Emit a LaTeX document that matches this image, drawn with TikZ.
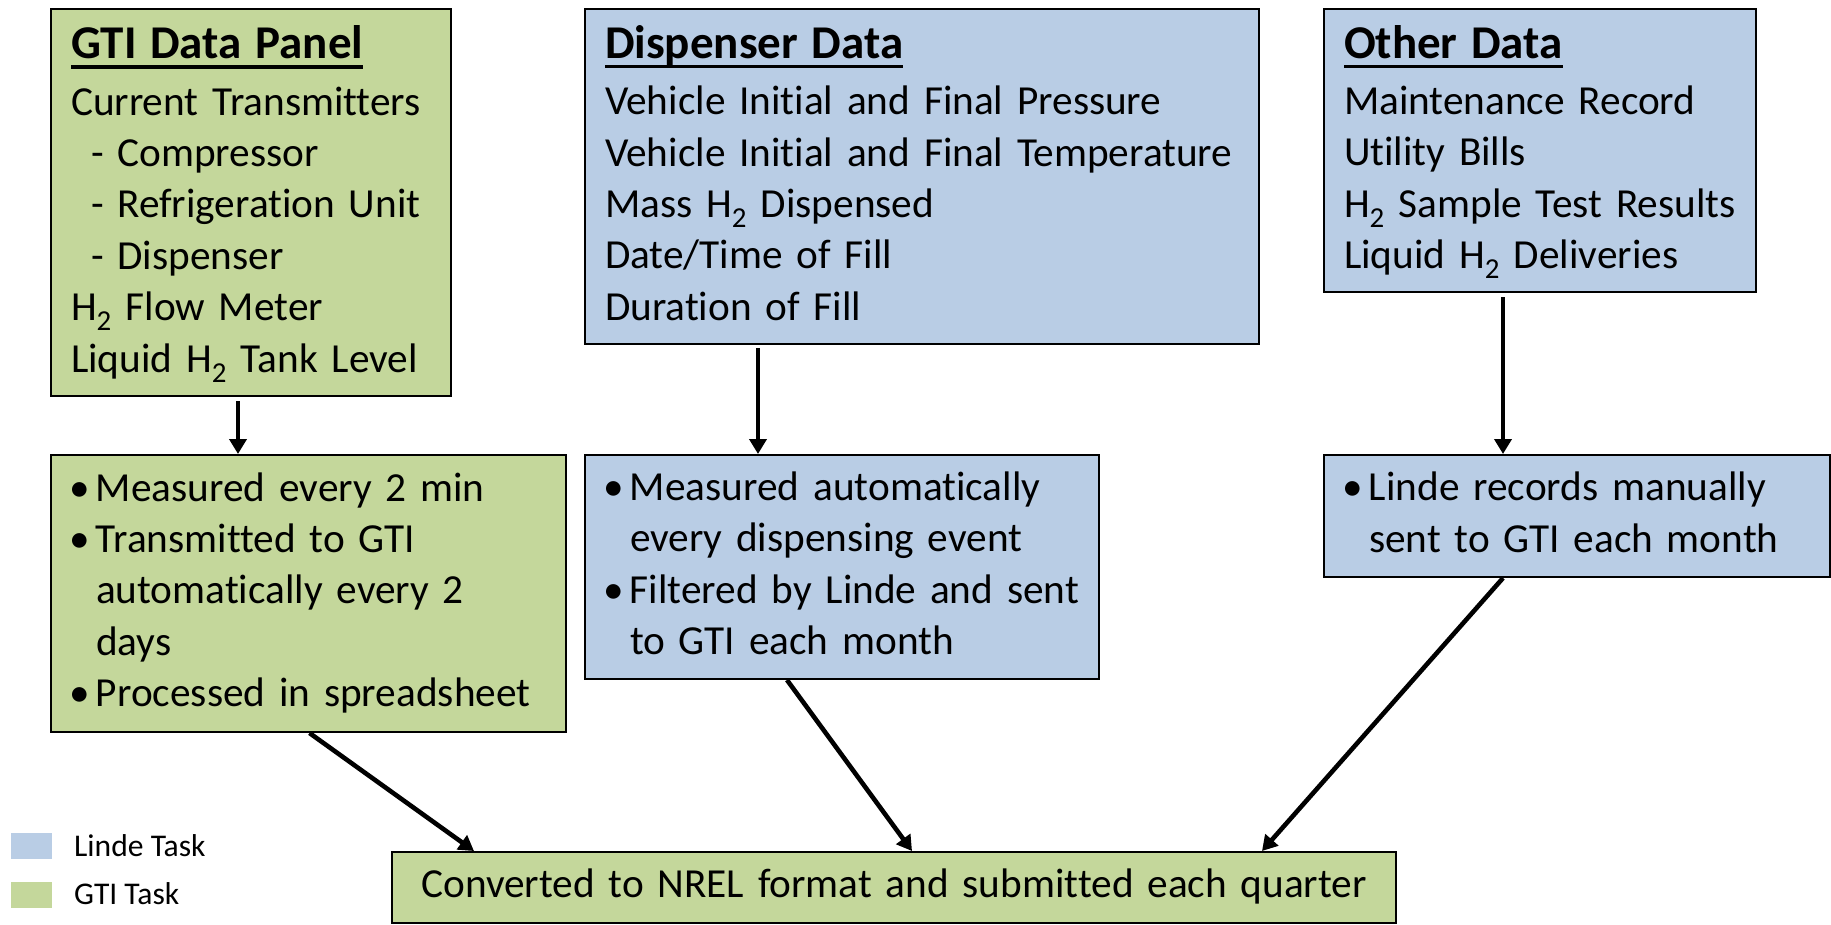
\documentclass[tikz,border=0pt]{standalone}
\usepackage{fontspec}
\setmainfont{Carlito}[Ligatures=NoCommon]
\usetikzlibrary{arrows.meta}
\definecolor{gfill}{HTML}{C4D79B}
\definecolor{bfill}{HTML}{B9CDE5}
\newcommand\hd[1]{\mbox{\rule[-15pt]{0pt}{56pt}\fontsize{47}{57}\selectfont\bfseries\setbox0\hbox{#1}\rlap{\rule[-10pt]{\wd0}{3.2pt}}\box0}\\[5pt]}
\newcommand\Hz{H\textsubscript{2}}
\newcommand\li[1]{\mbox{\rule[-15.4pt]{0pt}{51.4pt}#1}}
\newcommand\bul{\makebox[25pt][l]{\hspace*{-2pt}\textbullet}}
\newcommand\bfirst[1]{\hangindent=25pt\hangafter=1\noindent\bul#1}
\newcommand\bitem[1]{\par\hangindent=25pt\hangafter=1\noindent\bul#1}
\begin{document}
\begin{tikzpicture}[x=1pt,y=-1pt,
  box/.style={draw=black, line width=2pt, anchor=north west, inner xsep=20pt, inner ysep=0pt,
    align=left, font=\fontsize{41.3}{51.4}\selectfont},
  arr/.style={line width=4.6pt, -{Triangle[length=15pt,width=17pt]}},
  legsq/.style={anchor=north west, inner sep=0pt, minimum width=41pt, minimum height=26pt},
  legtx/.style={anchor=base west, inner sep=0pt, font=\fontsize{31.6}{38}\selectfont}]
\useasboundingbox (0,0) rectangle (1831,924);
% top row
\node[box, fill=gfill, text width=360pt, minimum height=387pt] (gti) at (50,8)
  {\hd{GTI Data Panel}\li{Current Transmitters}\\ \li{\hspace*{20pt}- Compressor}\\
   \li{\hspace*{20pt}- Refrigeration Unit}\\ \li{\hspace*{20pt}- Dispenser}\\
   \li{\Hz{} Flow Meter}\\ \li{Liquid \Hz{} Tank Level}};
\node[box, fill=bfill, text width=634pt, minimum height=335pt] (disp) at (584,8)
  {\hd{Dispenser Data}\li{Vehicle Initial and Final Pressure}\\
   \li{Vehicle Initial and Final Temperature}\\ \li{Mass \Hz{} Dispensed}\\
   \li{Date/Time of Fill}\\ \li{Duration of Fill}};
\node[box, fill=bfill, text width=392pt, minimum height=283pt] (oth) at (1323,8)
  {\hd{Other Data}\li{Maintenance Record}\\ \li{Utility Bills}\\
   \li{\Hz{} Sample Test Results}\\ \li{Liquid \Hz{} Deliveries}};
% second row
\node[box, fill=gfill, text width=475pt, minimum height=277pt] (gtib) at (50,454)
  {\bfirst{\li{Measured every 2 min}}
   \bitem{\li{Transmitted to GTI}\newline\li{automatically every 2}\newline\li{days}}
   \bitem{\li{Processed in spreadsheet}}\par};
\node[box, fill=bfill, text width=474pt, minimum height=224pt] (dispb) at (584,454)
  {\bfirst{\li{Measured automatically}\newline\li{every dispensing event}}
   \bitem{\li{Filtered by Linde and sent}\newline\li{to GTI each month}}\par};
\node[box, fill=bfill, text width=466pt, minimum height=122pt] (othb) at (1323,454)
  {\bfirst{\li{Linde records manually}\newline\li{sent to GTI each month}}\par};
% bottom
\node[box, fill=gfill, align=center, text width=964pt, minimum height=71pt] (bot) at (391,851)
  {\li{Converted to NREL format and submitted each quarter}};
% legend
\node[legsq, fill=bfill] (lg1) at (11,833) {};
\node[legsq, fill=gfill] (lg2) at (11,882) {};
\node[legtx] (lt1) at (74,856) {Linde Task};
\node[legtx] (lt2) at (74,904) {GTI Task};
% arrows
\draw[arr] ([xshift=-13pt,yshift=-4pt]gti.south) -- ([xshift=-13pt]gti.south |- gtib.north);
\draw[arr] ([xshift=-164pt,yshift=-3pt]disp.south) -- ([xshift=-164pt]disp.south |- dispb.north);
\draw[arr] ([xshift=-37pt,yshift=-4pt]oth.south) -- ([xshift=-37pt]oth.south |- othb.north);
\draw[arr] ([xshift=1pt]gtib.south) -- ([xshift=-420pt]bot.north);
\draw[arr] ([xshift=-55pt]dispb.south) -- ([xshift=18pt]bot.north);
\draw[arr] ([xshift=-74pt]othb.south) -- ([xshift=368pt]bot.north);
\end{tikzpicture}
\end{document}
